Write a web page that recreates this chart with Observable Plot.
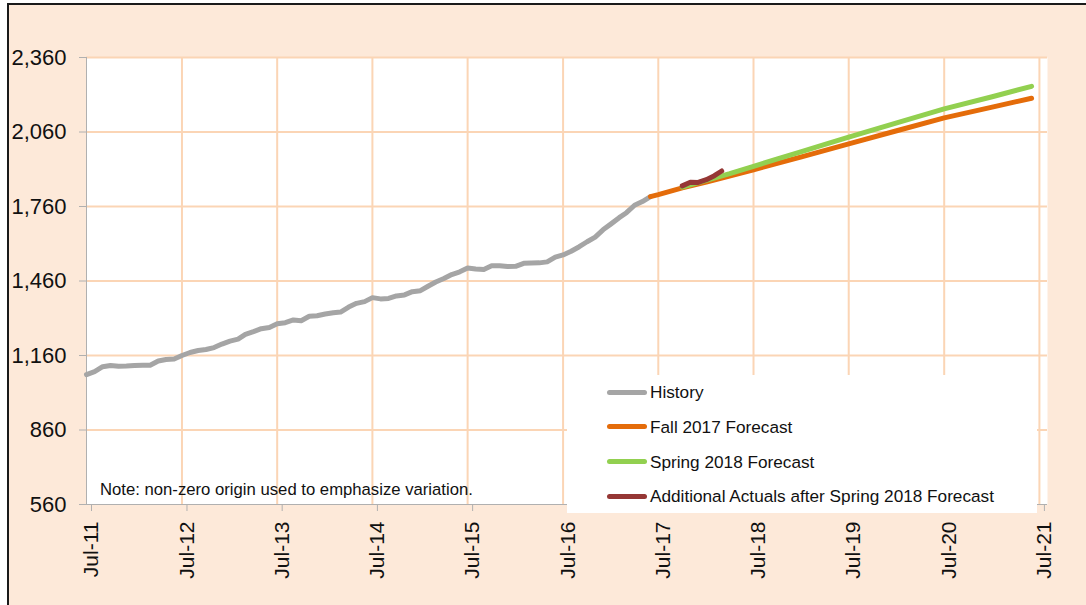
<!DOCTYPE html>
<html>
<head>
<meta charset="utf-8">
<script src="https://cdn.jsdelivr.net/npm/d3@7"></script>
<script src="https://cdn.jsdelivr.net/npm/@observablehq/plot@0.6"></script>
<style>
  html, body { margin: 0; padding: 0; background: #ffffff; }
  #wrap { position: relative; width: 1086px; height: 605px; overflow: hidden; font-family: "Liberation Sans", Arial, sans-serif; }
  #bg { position: absolute; left: 7px; top: 3px; right: -4px; bottom: -4px; background: #FDE9D9; border-left: 2px solid #1a1a1a; border-top: 2px solid #1a1a1a; }
  #chart { position: absolute; left: 0; top: 0; }
  #note { position: absolute; left: 100px; top: 480px; font-size: 16.7px; line-height: 20px; color: #111; white-space: nowrap; }
  #legend { position: absolute; left: 567px; top: 375px; width: 470px; height: 138px; background: #ffffff; }
  .row { position: absolute; left: 40px; height: 20px; line-height: 20px; display: flex; align-items: center; font-size: 17.2px; color: #111; white-space: nowrap; }
  .sw { display: inline-block; width: 40px; height: 5px; border-radius: 3px; margin-right: 3px; }
</style>
</head>
<body>
<div id="wrap">
  <div id="bg"></div>
  <div id="chart"></div>
  <div id="note"></div>
  <div id="legend"></div>
</div>
<script>
// ---- Data ----
const historyStart = "2011-07-01";
const historyValues = [
  1083, 1095, 1115, 1120, 1117, 1118, 1120, 1121, 1121, 1138, 1144, 1146,
  1160, 1172, 1180, 1184, 1192, 1206, 1218, 1226, 1245, 1256, 1268, 1273,
  1288, 1292, 1303, 1300, 1318, 1320, 1327, 1332, 1335, 1355, 1370, 1377,
  1393, 1388, 1390, 1400, 1404, 1417, 1421, 1440, 1456, 1470, 1486, 1497,
  1512, 1508, 1506, 1521, 1521, 1518, 1519, 1531, 1532, 1533, 1537, 1556,
  1565, 1580, 1598, 1618, 1637, 1666, 1690, 1715, 1735, 1765, 1780, 1800
];
const fallDates = ["2017-06-01","2017-07-01","2017-10-01","2018-01-01","2018-07-01","2019-01-01","2019-07-01","2020-01-01","2020-07-01","2021-01-01","2021-06-01"];
const fallValues = [1800, 1808, 1835, 1858, 1908, 1960, 2012, 2065, 2117, 2160, 2196];
const springDates = ["2017-10-01","2018-01-01","2018-04-01","2018-07-01","2018-10-01","2019-01-01","2019-04-01","2019-07-01","2020-01-01","2020-07-01","2021-01-01","2021-06-01"];
const springValues = [1838, 1865, 1892, 1922, 1952, 1981, 2010, 2039, 2097, 2153, 2202, 2244];
const actualDates = ["2017-10-01","2017-11-01","2017-12-01","2018-01-01","2018-02-01","2018-03-01"];
const actualValues = [1843, 1858, 1857, 1868, 1884, 1903];

const yTicks = [560, 860, 1160, 1460, 1760, 2060, 2360];
const xTickDates = ["2011-07-01","2012-07-01","2013-07-01","2014-07-01","2015-07-01","2016-07-01","2017-07-01","2018-07-01","2019-07-01","2020-07-01","2021-07-01"];
const xDomain = ["2011-07-01", "2021-08-01"];

const seriesNames = ["History", "Fall 2017 Forecast", "Spring 2018 Forecast", "Additional Actuals after Spring 2018 Forecast"];
const seriesColors = ["#A5A5A5", "#E46C0A", "#92D050", "#953735"];
const noteText = "Note: non-zero origin used to emphasize variation.";

// ---- Build tables ----
const parse = d3.utcParse("%Y-%m-%d");
const start = parse(historyStart);
const history = historyValues.map((v, i) => ({date: d3.utcMonth.offset(start, i), value: v}));
const toRows = (ds, vs) => ds.map((d, i) => ({date: parse(d), value: vs[i]}));
const fall = toRows(fallDates, fallValues);
const spring = toRows(springDates, springValues);
const actual = toRows(actualDates, actualValues);
const xTicks = xTickDates.map(parse);

const grid = "#FBD5B5";
const axisGray = "#B0B0B0";
const lineOpts = {x: "date", y: "value", strokeWidth: 5, strokeLinecap: "round", strokeLinejoin: "round"};

const chart = Plot.plot({
  width: 1086,
  height: 605,
  marginLeft: 86,
  marginRight: 39,
  marginTop: 57,
  marginBottom: 101,
  style: {background: "transparent", fontFamily: "'Liberation Sans', Arial, sans-serif", color: "#111", overflow: "visible"},
  x: {type: "utc", domain: xDomain.map(parse)},
  y: {domain: [yTicks[0], yTicks[yTicks.length - 1]]},
  marks: [
    Plot.frame({fill: "white", stroke: "none"}),
    Plot.ruleX(xTicks.slice(1), {stroke: grid, strokeWidth: 2}),
    Plot.ruleY(yTicks.slice(1), {stroke: grid, strokeWidth: 2}),
    Plot.ruleX([xTicks[0]], {stroke: axisGray, strokeWidth: 1}),
    Plot.ruleY([yTicks[0]], {stroke: axisGray, strokeWidth: 1}),
    Plot.axisY({ticks: yTicks, tickFormat: d3.format(","), tickSize: 7, tickPadding: 13, fontSize: 22, stroke: axisGray, label: null}),
    Plot.axisX({ticks: xTicks, tickFormat: d3.utcFormat("%b-%y"), tickRotate: -90, tickSize: 7, tickPadding: 10, fontSize: 21, stroke: axisGray, label: null, dx: 5}),
    Plot.line(history, {...lineOpts, stroke: seriesColors[0]}),
    Plot.line(fall, {...lineOpts, stroke: seriesColors[1]}),
    Plot.line(spring, {...lineOpts, stroke: seriesColors[2]}),
    Plot.line(actual, {...lineOpts, stroke: seriesColors[3]})
  ]
});
document.getElementById("chart").appendChild(chart);

// ---- Note and legend ----
document.getElementById("note").textContent = noteText;
const legend = document.getElementById("legend");
const rowTops = [7, 41.7, 76.7, 111];
seriesNames.forEach((name, i) => {
  const row = document.createElement("div");
  row.className = "row";
  row.style.top = rowTops[i] + "px";
  const sw = document.createElement("span");
  sw.className = "sw";
  sw.style.background = seriesColors[i];
  const t = document.createElement("span");
  t.textContent = name;
  row.appendChild(sw);
  row.appendChild(t);
  legend.appendChild(row);
});
</script>
</body>
</html>
